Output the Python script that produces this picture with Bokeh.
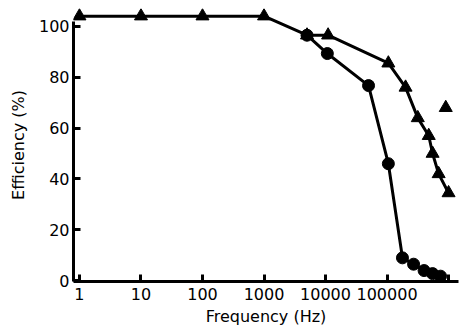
from bokeh.plotting import figure
from bokeh.models import FixedTicker, Range1d
from bokeh.embed import file_html
from bokeh.resources import INLINE

# Triangle series (upper curve)
tri_x = [1, 10, 100, 1000, 5000, 11000, 105000, 200000, 316000, 476000, 550000, 690000, 1000000]
tri_y = [104, 104, 104, 104, 96.5, 96.5, 85.5, 76, 64, 57, 50, 42, 34.5]
# isolated triangle point
iso_x = [900000]
iso_y = [68]
# Circle series (lower curve)
cir_x = [5000, 10700, 50000, 105000, 178000, 270000, 400000, 550000, 740000]
cir_y = [96.5, 89.3, 76.7, 46, 9, 6.5, 4, 2.8, 1.8]

x_ticks = [1, 10, 100, 1000, 10000, 100000, 1000000]
x_labels = ["1", "10", "100", "1000", "10000", "100000", ""]
y_ticks = [0, 20, 40, 60, 80, 100]

FONT = "DejaVu Sans"

p = figure(width=460, height=330, x_axis_type="log",
           x_range=Range1d(0.8, 1.45e6), y_range=Range1d(-0.3, 107),
           output_backend="svg", toolbar_location=None,
           min_border_left=73, min_border_right=2, min_border_top=8, min_border_bottom=49)
p.outline_line_color = None
p.xgrid.visible = False
p.ygrid.visible = False
p.background_fill_color = "white"

p.line(tri_x, tri_y, line_color="black", line_width=3)
p.line(cir_x, cir_y, line_color="black", line_width=3)
p.scatter(tri_x, tri_y, marker="triangle", size=13, color="black")
p.scatter(iso_x, iso_y, marker="triangle", size=13, color="black")
p.scatter(cir_x, cir_y, marker="circle", size=12, color="black")

xa = p.xaxis[0]
xa.ticker = FixedTicker(ticks=x_ticks)
xa.major_label_overrides = {t: l for t, l in zip(x_ticks, x_labels)}
xa.axis_label = "Frequency (Hz)"
ya = p.yaxis[0]
ya.ticker = FixedTicker(ticks=y_ticks)
ya.axis_label = "Efficiency (%)"
ya.bounds = (-0.3, 102)

for ax in (xa, ya):
    ax.axis_line_width = 3
    ax.axis_line_color = "black"
    ax.major_tick_line_width = 3
    ax.major_tick_line_color = "black"
    ax.major_tick_in = 7
    ax.major_tick_out = 0
    ax.minor_tick_line_color = None
    ax.major_label_text_font = FONT
    ax.major_label_text_font_size = "16px"
    ax.major_label_text_color = "black"
    ax.axis_label_text_font = FONT
    ax.axis_label_text_font_size = "16px"
    ax.axis_label_text_font_style = "normal"
    ax.axis_label_text_color = "black"
xa.major_label_standoff = 6
xa.axis_label_standoff = 4
ya.major_label_standoff = 4
ya.axis_label_standoff = 8

open("out.html", "w").write(file_html(p, INLINE))
